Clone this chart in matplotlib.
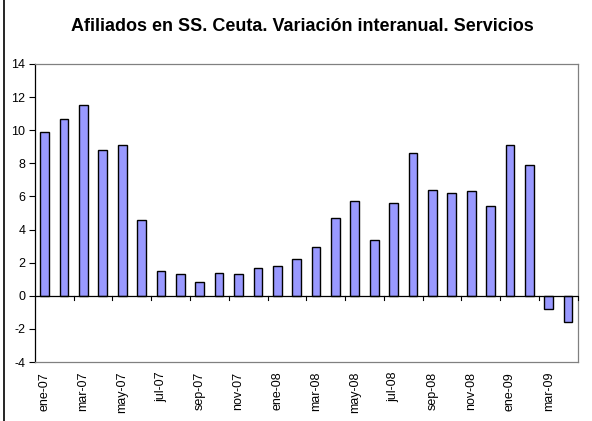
import matplotlib
matplotlib.use("Agg")
import matplotlib.pyplot as plt
from matplotlib.lines import Line2D

plt.rcParams['font.family'] = ['Liberation Sans', 'DejaVu Sans']

months = ["ene-07", "feb-07", "mar-07", "abr-07", "may-07", "jun-07", "jul-07", "ago-07",
          "sep-07", "oct-07", "nov-07", "dic-07", "ene-08", "feb-08", "mar-08", "abr-08",
          "may-08", "jun-08", "jul-08", "ago-08", "sep-08", "oct-08", "nov-08", "dic-08",
          "ene-09", "feb-09", "mar-09", "abr-09"]
values = [9.9, 10.7, 11.5, 8.8, 9.1, 4.6, 1.5, 1.3, 0.85, 1.4, 1.3, 1.7, 1.8, 2.2,
          2.95, 4.7, 5.7, 3.4, 5.6, 8.6, 6.4, 6.2, 6.3, 5.4, 9.1, 7.9, -0.8, -1.6]
yticks = [-4, -2, 0, 2, 4, 6, 8, 10, 12, 14]
title = "Afiliados en SS. Ceuta. Variación interanual. Servicios"

fig = plt.figure(figsize=(5.92, 4.21), dpi=100)
ax = fig.add_axes([0.059, 0.140, 0.917, 0.708])

x = list(range(len(months)))
ax.bar(x, values, width=0.45, color="#9999FF", edgecolor="black", linewidth=1.0, zorder=3)

ax.set_xlim(-0.5, len(months) - 0.5)
ax.set_ylim(-4, 14)
ax.set_yticks(yticks)
ax.set_yticklabels([str(v) for v in yticks], fontsize=9)
ax.tick_params(axis='y', direction='out', length=4, width=0.8, pad=3)

# x labels every other month
ax.set_xticks(x[::2])
ax.set_xticklabels(months[::2], rotation=90, fontsize=9)
ax.tick_params(axis='x', length=0, pad=7)

# zero line with ticks at category boundaries
ax.axhline(0, color="black", linewidth=0.9, zorder=4)
for b in range(2, len(months) + 1, 2):
    ax.plot([b - 0.5, b - 0.5], [0, -0.25], color="black", linewidth=0.8, zorder=4, clip_on=False)

for s in ["top", "right", "bottom"]:
    ax.spines[s].set_color("#808080")
    ax.spines[s].set_linewidth(0.9)
ax.spines["left"].set_color("black")
ax.spines["left"].set_linewidth(0.9)

fig.text(0.51, 0.938, title, ha="center", va="center", fontsize=13, fontweight="bold")

fig.lines.append(Line2D([0.006, 0.006], [0.0, 1.0], transform=fig.transFigure,
                        color="black", linewidth=1.2))

fig.savefig("out.png", dpi=100)
